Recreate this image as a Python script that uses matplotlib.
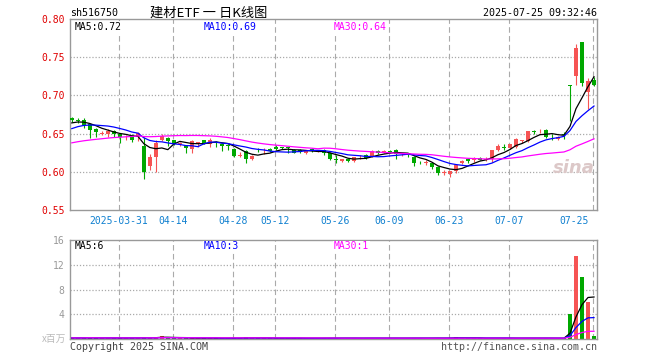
import numpy as np
import pandas as pd
import matplotlib
matplotlib.use('Agg')
import matplotlib.pyplot as plt
from matplotlib.transforms import offset_copy

plt.rcParams['font.family'] = ['DejaVu Sans Mono', 'Noto Sans CJK SC']

# trading days (Mar 19 - Jul 25 2025, minus exchange holidays)
holidays = ['2025-04-04', '2025-05-01', '2025-05-02', '2025-05-05', '2025-06-02']
dates = pd.bdate_range('2025-03-19', '2025-07-25').drop(pd.to_datetime(holidays))

open_ = [.670, .668, .668, .662, .656, .650, .650, .654, .649, .645,
         .648, .646, .634, .607, .620, .641, .644, .641, .637, .634,
         .630, .638, .641, .636, .639, .637, .635, .630, .621, .627,
         .617, .629, .628, .630, .633, .632, .632, .629, .629, .624,
         .630, .627, .629, .625, .617, .614, .617, .614, .619, .622,
         .620, .627, .626, .627, .629, .623, .624, .620, .612, .611,
         .612, .606, .598, .597, .601, .611, .617, .616, .618, .616,
         .617, .628, .632, .631, .632, .640, .640, .653, .653, .655,
         .646, .643, .649, .713, .725, .770, .704, .720]
high = [.672, .670, .670, .663, .657, .654, .656, .655, .650, .648,
        .649, .652, .645, .623, .642, .650, .645, .642, .639, .635,
        .641, .639, .642, .644, .640, .638, .636, .631, .626, .628,
        .622, .631, .631, .631, .635, .633, .633, .630, .630, .628,
        .631, .629, .630, .626, .622, .617, .618, .620, .622, .623,
        .628, .628, .628, .628, .630, .625, .625, .621, .614, .615,
        .613, .607, .603, .601, .610, .616, .618, .619, .619, .619,
        .629, .636, .637, .637, .644, .642, .654, .655, .656, .656,
        .649, .647, .652, .714, .767, .770, .723, .724]
low = [.665, .664, .657, .644, .646, .648, .646, .646, .638, .641,
       .639, .640, .590, .602, .600, .640, .634, .635, .634, .625,
       .625, .633, .636, .633, .633, .627, .628, .619, .619, .612,
       .615, .626, .623, .626, .629, .630, .625, .624, .625, .623,
       .626, .626, .622, .615, .612, .613, .613, .613, .617, .617,
       .619, .623, .625, .625, .617, .621, .619, .608, .610, .609,
       .604, .596, .596, .593, .599, .610, .612, .613, .615, .614,
       .613, .627, .628, .630, .631, .638, .639, .650, .651, .644,
       .642, .642, .643, .667, .713, .712, .682, .712]
close = [.668, .666, .661, .655, .652, .651, .654, .649, .645, .646,
         .642, .651, .600, .620, .638, .647, .640, .637, .637, .631,
         .640, .639, .637, .642, .638, .634, .634, .621, .622, .617,
         .621, .628, .629, .627, .630, .631, .631, .625, .626, .627,
         .627, .628, .625, .617, .616, .617, .614, .619, .620, .618,
         .627, .624, .627, .626, .623, .624, .622, .611, .611, .613,
         .606, .598, .600, .601, .609, .614, .614, .617, .616, .617,
         .628, .634, .631, .636, .643, .641, .653, .652, .654, .646,
         .645, .646, .648, .712, .762, .716, .719, .713]
# closes before the visible window, needed to warm up the moving averages
prev_close = [.622, .624, .626, .625, .627, .629, .628, .630, .631, .629,
              .627, .626, .628, .630, .632, .631, .629, .630, .633, .635,
              .640, .645, .650, .653, .657, .660, .662, .664, .666]
# volume, millions of shares
volume = [0.18, 0.15, 0.20, 0.24, 0.16, 0.14, 0.15, 0.17, 0.21, 0.14,
          0.16, 0.19, 0.28, 0.22, 0.20, 0.55, 0.15, 0.14, 0.13, 0.15,
          0.17, 0.14, 0.13, 0.15, 0.12, 0.14, 0.13, 0.17, 0.15, 0.32,
          0.14, 0.15, 0.13, 0.12, 0.14, 0.13, 0.12, 0.14, 0.13, 0.12,
          0.13, 0.12, 0.14, 0.15, 0.13, 0.12, 0.13, 0.14, 0.12, 0.13,
          0.14, 0.13, 0.12, 0.13, 0.14, 0.12, 0.13, 0.15, 0.13, 0.12,
          0.14, 0.16, 0.13, 0.15, 0.34, 0.14, 0.13, 0.12, 0.13, 0.12,
          0.15, 0.14, 0.13, 0.12, 0.14, 0.13, 0.15, 0.13, 0.12, 0.14,
          0.13, 0.12, 0.14, 4.1, 13.4, 10.0, 5.9, 0.54]

tick_dates = ['2025-03-31', '2025-04-14', '2025-04-28', '2025-05-12', '2025-05-26',
              '2025-06-09', '2025-06-23', '2025-07-07', '2025-07-25']
tick_labels = ['2025-03-31', '04-14', '04-28', '05-12', '05-26',
               '06-09', '06-23', '07-07', '07-25']

RED = '#f65454'
GREEN = '#00a800'
GRID = '#aaaaaa'

o = np.array(open_); h = np.array(high); l = np.array(low); c = np.array(close)
v = np.array(volume)
x = np.arange(len(dates))
tick_idx = [dates.get_loc(pd.Timestamp(d)) for d in tick_dates]

full = pd.Series(prev_close + close)
ma5 = full.rolling(5).mean().values[len(prev_close):]
ma10 = full.rolling(10).mean().values[len(prev_close):]
ma30 = full.rolling(30).mean().values[len(prev_close):]
vs = pd.Series(v)
vma5 = vs.rolling(5, min_periods=1).mean().values
vma10 = vs.rolling(10, min_periods=1).mean().values
vma30 = vs.rolling(30, min_periods=1).mean().values

up = c >= o
colors = np.where(up, RED, GREEN)

fig = plt.figure(figsize=(6.6, 3.6), dpi=100)
ax = fig.add_axes([70 / 660, 1 - 210 / 360, 527 / 660, 191 / 360])
axv = fig.add_axes([70 / 660, 1 - 339 / 360, 527 / 660, 99 / 360])

for a in (ax, axv):
    a.set_xlim(-0.3, len(x) - 0.5)
    for s in a.spines.values():
        s.set_color('#999999')
        s.set_linewidth(1)
    for i in tick_idx:
        a.axvline(i - 0.2, color=GRID, ls=(0, (5, 3)), lw=0.8, zorder=0)
    a.set_xticks([])
    a.tick_params(axis='y', length=0, pad=4, labelsize=7)

# price panel
ax.set_ylim(0.55, 0.80)
yt = [0.55, 0.60, 0.65, 0.70, 0.75, 0.80]
ax.set_yticks(yt)
ax.set_yticklabels(['%.2f' % t for t in yt], color='#e00000')
for t in yt[1:-1]:
    ax.axhline(t, color=GRID, ls=(0, (1, 1.5)), lw=0.9, zorder=0)

ax.vlines(x, l, h, colors=colors, lw=0.8, zorder=2)
ax.bar(x, np.maximum(np.abs(c - o), 0.0007), 0.72, bottom=np.minimum(o, c),
       color=colors, lw=0, zorder=3)
ax.plot(x, ma5, color='black', lw=0.9, zorder=4)
ax.plot(x, ma10, color='#0000ff', lw=0.9, zorder=4)
ax.plot(x, ma30, color='#ff00ff', lw=0.9, zorder=4)

box = dict(facecolor='white', edgecolor='none', pad=0.5)
ax.text(0.008, 0.985, 'MA5:%.2f' % ma5[-1], transform=ax.transAxes, va='top',
        fontsize=7, color='black', bbox=box, zorder=6)
ax.text(0.254, 0.985, 'MA10:%.2f' % ma10[-1], transform=ax.transAxes, va='top',
        fontsize=7, color='#0000ff', bbox=box, zorder=6)
ax.text(0.501, 0.985, 'MA30:%.2f' % ma30[-1], transform=ax.transAxes, va='top',
        fontsize=7, color='#ff00ff', bbox=box, zorder=6)

xtr = ax.get_xaxis_transform()
for i, lab in zip(tick_idx, tick_labels):
    if i == tick_idx[-1]:
        ax.text(i, -0.058, lab, transform=offset_copy(xtr, fig=fig, x=-5, units='dots'),
                ha='right', va='center', fontsize=7, color='#1080d0')
    else:
        ax.text(i - 0.2, -0.058, lab, transform=xtr, ha='center', va='center',
                fontsize=7, color='#1080d0')

ax.text(0.955, 0.22, 'sina', transform=ax.transAxes, ha='center', va='center',
        fontsize=13, style='italic', weight='bold', color='#dcc8c8',
        family='DejaVu Sans', zorder=1)

# volume panel
axv.set_ylim(0, 16)
axv.set_yticks([4, 8, 12, 16])
axv.set_yticklabels(['4', '8', '12', '16'], color='#999999')
for t in [4, 8, 12]:
    axv.axhline(t, color=GRID, ls=(0, (1, 1.5)), lw=0.9, zorder=0)
axv.bar(x, v, 0.72, color=colors, lw=0, zorder=2)
axv.plot(x, vma5, color='black', lw=0.9, zorder=4)
axv.plot(x, vma10, color='#0000ff', lw=0.9, zorder=4)
axv.plot(x, vma30, color='#ff00ff', lw=0.9, zorder=4)
axv.text(0.008, 0.985, 'MA5:%d' % int(vma5[-1]), transform=axv.transAxes, va='top',
         fontsize=7, color='black', bbox=box, zorder=6)
axv.text(0.254, 0.985, 'MA10:%d' % int(vma10[-1]), transform=axv.transAxes, va='top',
         fontsize=7, color='#0000ff', bbox=box, zorder=6)
axv.text(0.501, 0.985, 'MA30:%d' % int(vma30[-1]), transform=axv.transAxes, va='top',
         fontsize=7, color='#ff00ff', bbox=box, zorder=6)
axv.text(-0.008, 0.0, 'x百万', transform=axv.transAxes, ha='right', va='center',
         fontsize=7, color='#bbbbbb', family=['Noto Sans CJK SC'])

# header and footer
fig.text(70 / 660, 1 - 13 / 360, 'sh516750', ha='left', va='center', fontsize=7.2)
fig.text(209 / 660, 1 - 13 / 360, '建材ETF 一 日K线图', ha='center', va='center',
         fontsize=9.5, family=['Noto Sans CJK SC'])
fig.text(597 / 660, 1 - 13 / 360, '2025-07-25 09:32:46', ha='right', va='center',
         fontsize=7.2)
fig.text(70 / 660, 1 - 347 / 360, 'Copyright 2025 SINA.COM', ha='left', va='center',
         fontsize=7.2, color='#444444')
fig.text(597 / 660, 1 - 347 / 360, 'http://finance.sina.com.cn', ha='right',
         va='center', fontsize=7.2, color='#555555')

fig.savefig('out.png', dpi=100, facecolor='white')
